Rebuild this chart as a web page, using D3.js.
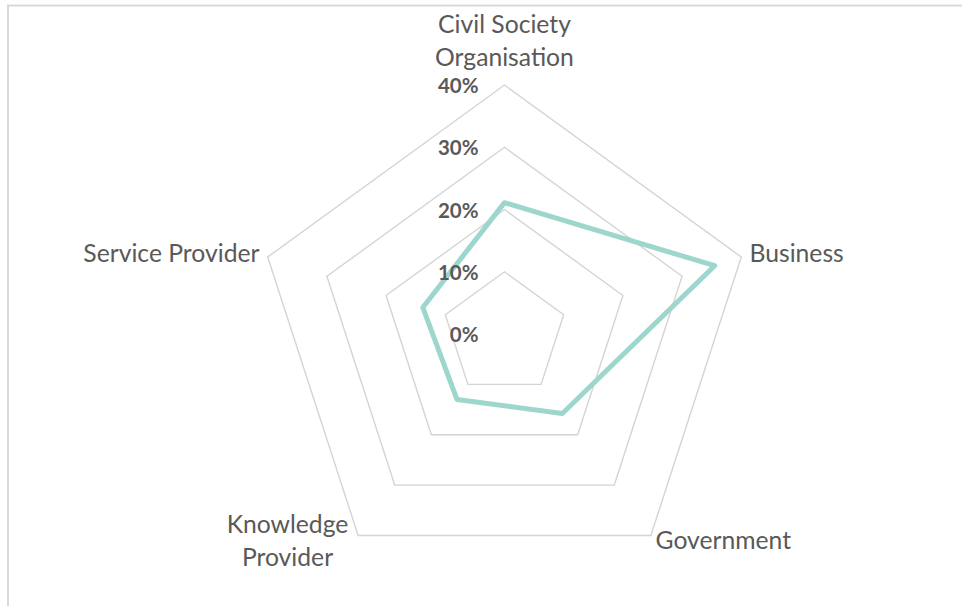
<!DOCTYPE html>
<html>
<head>
<meta charset="utf-8">
<script src="https://cdn.jsdelivr.net/npm/d3@7"></script>
<style>
  body { margin: 0; background: #fff; }
  svg { display: block; }
</style>
</head>
<body>
<div id="radar"></div>
<script>
// chart data
const categories = ["Civil Society Organisation", "Business", "Government", "Knowledge Provider", "Service Provider"];
const values = [0.211, 0.355, 0.158, 0.130, 0.138];
const ticks = [0, 0.1, 0.2, 0.3, 0.4];
const tickLabels = ["0%", "10%", "20%", "30%", "40%"];

function radar_chart() {

    let width = 965, height = 607;
    let cx = 504.5, cy = 334, radius = 249;

    let svg = d3.select("#radar")
        .append("svg")
        .attr("width", width)
        .attr("height", height);

    // chart frame (only top and left edges visible)
    svg.append("path")
        .attr("d", "M8,606 L8,5.5 L962,5.5")
        .attr("fill", "none")
        .attr("stroke", "#d9d9d9")
        .attr("stroke-width", 2);

    let g = svg.append("g")
        .attr("transform", "translate(" + cx + "," + cy + ")");

    // radius scale: 0% sits at the centre
    let r = d3.scaleLinear()
        .domain([0, 0.4])
        .range([0, radius]);

    let angle = d3.scaleLinear()
        .domain([0, categories.length])
        .range([0, 2 * Math.PI]);

    // gridline pentagons
    let ring = d3.lineRadial()
        .angle(function (d, i) { return angle(i); })
        .radius(function (d) { return r(d); })
        .curve(d3.curveLinearClosed);

    g.append("g")
        .selectAll("path")
        .data(ticks.filter(function (t) { return t > 0; }))
        .enter()
        .append("path")
        .attr("d", function (t) { return ring(categories.map(function () { return t; })); })
        .attr("fill", "none")
        .attr("stroke", "#d4d4d4")
        .attr("stroke-width", 1.4);

    // data line
    g.append("path")
        .datum(values)
        .attr("d", ring)
        .attr("fill", "none")
        .attr("stroke", "#9dd6cd")
        .attr("stroke-width", 5)
        .attr("stroke-linejoin", "round");

    // value axis labels
    g.append("g")
        .selectAll("text")
        .data(ticks)
        .enter()
        .append("text")
        .attr("x", -26)
        .attr("y", function (d) { return -r(d) + 8; })
        .attr("text-anchor", "end")
        .style("font-family", "Lato, sans-serif")
        .style("font-weight", "bold")
        .style("font-size", "20.5px")
        .style("fill", "#595959")
        .text(function (d, i) { return tickLabels[i]; });

    // category labels
    let labelPos = [
        {x: 0, y: -301, anchor: "middle", lines: ["Civil Society", "Organisation"]},
        {x: 245, y: -72, anchor: "start", lines: ["Business"]},
        {x: 151, y: 215, anchor: "start", lines: ["Government"]},
        {x: -217, y: 199, anchor: "middle", lines: ["Knowledge", "Provider"]},
        {x: -245, y: -72, anchor: "end", lines: ["Service Provider"]}
    ];

    let lab = g.append("g")
        .selectAll("text")
        .data(categories)
        .enter()
        .append("text")
        .attr("text-anchor", function (d, i) { return labelPos[i].anchor; })
        .style("font-family", "Lato, sans-serif")
        .style("font-size", "24.7px")
        .style("fill", "#595959");

    lab.selectAll("tspan")
        .data(function (d, i) { return labelPos[i].lines.map(function (l) { return {l: l, p: labelPos[i]}; }); })
        .enter()
        .append("tspan")
        .attr("x", function (d) { return d.p.x; })
        .attr("y", function (d, j) { return d.p.y + j * 33; })
        .text(function (d) { return d.l; });
}

radar_chart();
</script>
</body>
</html>
